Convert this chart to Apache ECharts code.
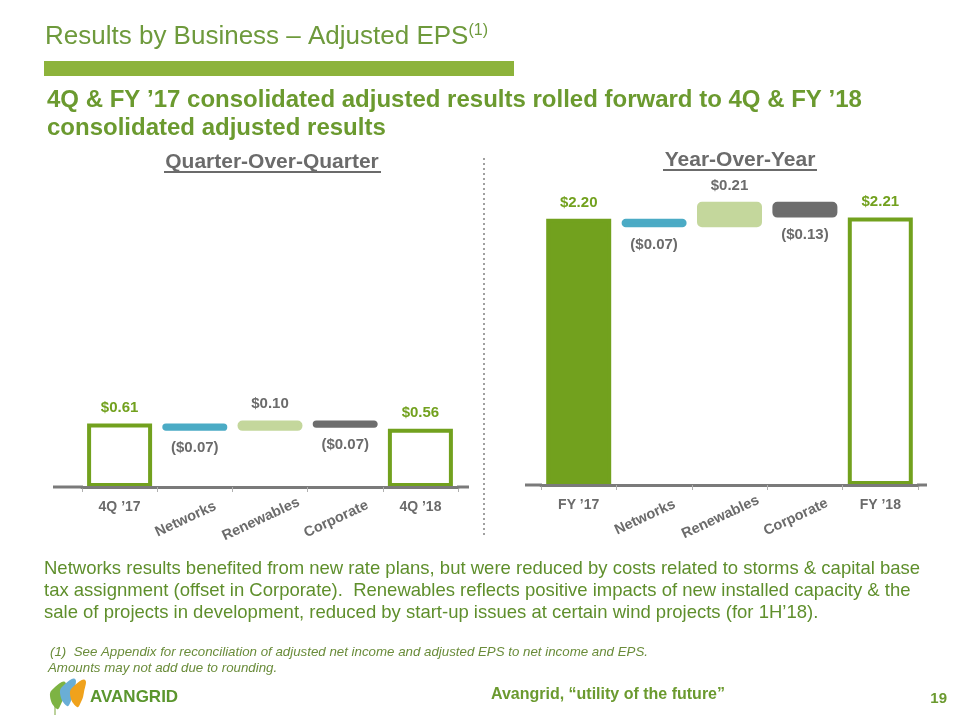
<!DOCTYPE html>
<html>
<head>
<meta charset="utf-8">
<script src="https://cdn.jsdelivr.net/npm/echarts@6/dist/echarts.min.js"></script>
<style>
html,body{margin:0;padding:0;background:#fff;}
#chart{width:960px;height:720px;}
</style>
</head>
<body>
<div id="chart"></div>
<script>
// ---- data ----
const catsQ = ["4Q \u201917", "Networks", "Renewables", "Corporate", "4Q \u201918"];
const valsQ = [0.61, -0.07, 0.10, -0.07, 0.56];
const labelsQ = ["$0.61", "($0.07)", "$0.10", "($0.07)", "$0.56"];

const catsY = ["FY \u201917", "Networks", "Renewables", "Corporate", "FY \u201918"];
const valsY = [2.20, -0.07, 0.21, -0.13, 2.21];
const labelsY = ["$2.20", "($0.07)", "$0.21", "($0.13)", "$2.21"];

// ---- styles ----
const FONT = '"Liberation Sans", Arial, sans-serif';
const GREEN = '#72a11e';
const GRAY_TXT = '#6b6b6b';
const deltaColors = ['#4babc5', '#c4d79c', '#6d6d6d'];

function waterfall(vals, filledFirst) {
  const base = [], height = [];
  let run = 0;
  vals.forEach((v, i) => {
    if (i === 0 || i === vals.length - 1) {
      base.push(0); height.push(v); run = v;
    } else if (v < 0) {
      base.push(run + v); height.push(-v); run += v;
    } else {
      base.push(run); height.push(v); run += v;
    }
  });
  const vis = height.map((h, i) => {
    const isTotal = (i === 0 || i === vals.length - 1);
    let item;
    if (isTotal) {
      const filled = filledFirst && i === 0;
      item = {
        value: h,
        itemStyle: { color: filled ? GREEN : '#ffffff', borderColor: GREEN, borderWidth: 4, borderRadius: 0 },
        label: { position: 'top', distance: 8, color: GREEN }
      };
    } else {
      const c = deltaColors[i - 1];
      item = {
        value: h,
        itemStyle: { color: c, borderColor: c, borderWidth: 4, borderRadius: 3 },
        label: vals[i] < 0 ? { position: 'bottom', distance: 10, color: GRAY_TXT }
                           : { position: 'top', distance: 9, color: GRAY_TXT }
      };
    }
    return item;
  });
  return { base, vis };
}

const wq = waterfall(valsQ, false);
const wy = waterfall(valsY, true);

function xAxes(grid, cats) {
  return [
    {
      gridIndex: grid, type: 'category', data: cats, position: 'bottom', z: 5,
      axisLine: { show: true, lineStyle: { color: '#7a7a7a', width: 3 } },
      axisTick: { show: true, length: 5, lineStyle: { color: '#b0b0b0', width: 1 } },
      axisLabel: {
        interval: 0, margin: 13, color: GRAY_TXT, fontWeight: 'bold', fontSize: 14, fontFamily: FONT,
        formatter: (v, i) => (i === 0 || i === cats.length - 1) ? v : ''
      }
    },
    {
      gridIndex: grid, type: 'category', data: cats, position: 'bottom', z: 5,
      axisLine: { show: false }, axisTick: { show: false },
      axisLabel: {
        interval: 0, rotate: 25, margin: 28, align: 'center', verticalAlign: 'middle',
        padding: [0, 20, 0, 0],
        color: GRAY_TXT, fontWeight: 'bold', fontSize: 14.5, fontFamily: FONT,
        formatter: (v, i) => (i === 0 || i === cats.length - 1) ? '' : v
      }
    }
  ];
}

function barSeries(w, xi, yi, labels) {
  return [
    {
      type: 'bar', stack: 's' + xi, xAxisIndex: xi, yAxisIndex: yi, barWidth: 65,
      silent: true, itemStyle: { color: 'transparent' }, data: w.base
    },
    {
      type: 'bar', stack: 's' + xi, xAxisIndex: xi, yAxisIndex: yi, barWidth: 65,
      data: w.vis,
      label: {
        show: true, fontWeight: 'bold', fontSize: 15, fontFamily: FONT,
        formatter: p => labels[p.dataIndex]
      }
    }
  ];
}

function leaf(x, y, color) {
  return {
    type: 'polygon', z: 10,
    shape: { points: [[x, y + 27], [x - 7, y + 14], [x - 2, y + 5], [x + 8, y], [x + 7, y + 12], [x + 4, y + 22]], smooth: 0.5 },
    style: { fill: color }
  };
}

const chart = echarts.init(document.getElementById('chart'), null, { renderer: 'canvas' });
const option = {
  animation: false,
  backgroundColor: '#ffffff',
  textStyle: { fontFamily: FONT },
  grid: [
    { left: 82, right: 502, top: 383, bottom: 233, containLabel: false },
    { left: 541, right: 42, top: 182.5, bottom: 235, containLabel: false }
  ],
  xAxis: [].concat(xAxes(0, catsQ), xAxes(1, catsY)),
  yAxis: [
    { gridIndex: 0, type: 'value', min: 0, max: 1, show: false },
    { gridIndex: 1, type: 'value', min: 0, max: 2.5, show: false }
  ],
  series: [].concat(
    barSeries(wq, 0, 0, labelsQ),
    barSeries(wy, 2, 1, labelsY)
  ),
  graphic: [
    // title
    { type: 'text', x: 45, y: 37, style: {
        text: '{a|Results by Business \u2013 Adjusted EPS}{b|(1)}',
        verticalAlign: 'middle', fontFamily: FONT,
        rich: {
          a: { fontSize: 26, fill: '#6e9a3c', fontFamily: FONT },
          b: { fontSize: 16, fill: '#6e9a3c', fontFamily: FONT, padding: [0, 0, 13, 0] }
        }
    } },
    { type: 'rect', shape: { x: 44, y: 61, width: 470, height: 15 }, style: { fill: '#8db33b' } },
    // subtitle
    { type: 'text', x: 47, y: 100, style: { text: '4Q & FY \u201917 consolidated adjusted results rolled forward to 4Q & FY \u201918',
        fontSize: 24, fontWeight: 'bold', fontFamily: FONT, fill: '#6b9a2f', verticalAlign: 'middle' } },
    { type: 'text', x: 47, y: 128, style: { text: 'consolidated adjusted results',
        fontSize: 24, fontWeight: 'bold', fontFamily: FONT, fill: '#6b9a2f', verticalAlign: 'middle' } },
    // section headers
    { type: 'text', x: 272, y: 162, style: { text: 'Quarter-Over-Quarter', fontSize: 21, fontWeight: 'bold', fontFamily: FONT,
        fill: '#6b6b6b', align: 'center', verticalAlign: 'middle' } },
    { type: 'rect', shape: { x: 164, y: 171, width: 217, height: 2 }, style: { fill: '#6b6b6b' } },
    { type: 'text', x: 740, y: 160, style: { text: 'Year-Over-Year', fontSize: 21, fontWeight: 'bold', fontFamily: FONT,
        fill: '#6b6b6b', align: 'center', verticalAlign: 'middle' } },
    { type: 'rect', shape: { x: 663, y: 169, width: 154, height: 2 }, style: { fill: '#6b6b6b' } },
    // separator
    { type: 'line', shape: { x1: 484, y1: 158, x2: 484, y2: 538 }, style: { stroke: '#a0a0a0', lineWidth: 2, lineDash: [2, 3] } },
    // axis line extensions
    { type: 'line', z: 10, shape: { x1: 53, y1: 487, x2: 83, y2: 487 }, style: { stroke: '#7a7a7a', lineWidth: 3 } },
    { type: 'line', z: 10, shape: { x1: 457, y1: 487, x2: 469, y2: 487 }, style: { stroke: '#7a7a7a', lineWidth: 3 } },
    { type: 'line', z: 10, shape: { x1: 525, y1: 485, x2: 542, y2: 485 }, style: { stroke: '#7a7a7a', lineWidth: 3 } },
    { type: 'line', z: 10, shape: { x1: 917, y1: 485, x2: 927, y2: 485 }, style: { stroke: '#7a7a7a', lineWidth: 3 } },
    // paragraph
    { type: 'text', x: 44, y: 569, style: { text: 'Networks results benefited from new rate plans, but were reduced by costs related to storms & capital base',
        fontSize: 18.5, fontFamily: FONT, fill: '#5f8f2c', verticalAlign: 'middle' } },
    { type: 'text', x: 44, y: 591, style: { text: 'tax assignment (offset in Corporate).  Renewables reflects positive impacts of new installed capacity & the',
        fontSize: 18.5, fontFamily: FONT, fill: '#5f8f2c', verticalAlign: 'middle' } },
    { type: 'text', x: 44, y: 613, style: { text: 'sale of projects in development, reduced by start-up issues at certain wind projects (for 1H\u201918).',
        fontSize: 18.5, fontFamily: FONT, fill: '#5f8f2c', verticalAlign: 'middle' } },
    // footnotes
    { type: 'text', x: 50, y: 652, style: { text: '(1)  See Appendix for reconciliation of adjusted net income and adjusted EPS to net income and EPS.',
        fontSize: 13.3, fontStyle: 'italic', fontFamily: FONT, fill: '#6a8c3a', verticalAlign: 'middle' } },
    { type: 'text', x: 48, y: 668, style: { text: 'Amounts may not add due to rounding.',
        fontSize: 13.3, fontStyle: 'italic', fontFamily: FONT, fill: '#6a8c3a', verticalAlign: 'middle' } },
    // logo
    { type: 'line', z: 9, shape: { x1: 55, y1: 706, x2: 55, y2: 715 }, style: { stroke: '#7aa53a', lineWidth: 1 } },
    leaf(57, 682, '#7db343'),
    leaf(67, 679, '#6aaed6'),
    leaf(77, 680, '#f0a21c'),
    { type: 'text', x: 90, y: 697, style: { text: 'AVANGRID', fontSize: 17, fontWeight: 'bold', fontFamily: FONT,
        fill: '#5b962e', verticalAlign: 'middle' } },
    { type: 'text', x: 725, y: 695, style: { text: 'Avangrid, \u201cutility of the future\u201d', fontSize: 16, fontWeight: 'bold', fontFamily: FONT,
        fill: '#6b9a2f', align: 'right', verticalAlign: 'middle' } },
    { type: 'text', x: 947, y: 699, style: { text: '19', fontSize: 15, fontWeight: 'bold', fontFamily: FONT,
        fill: '#6b9a2f', align: 'right', verticalAlign: 'middle' } }
  ]
};
chart.setOption(option);
</script>
</body>
</html>
